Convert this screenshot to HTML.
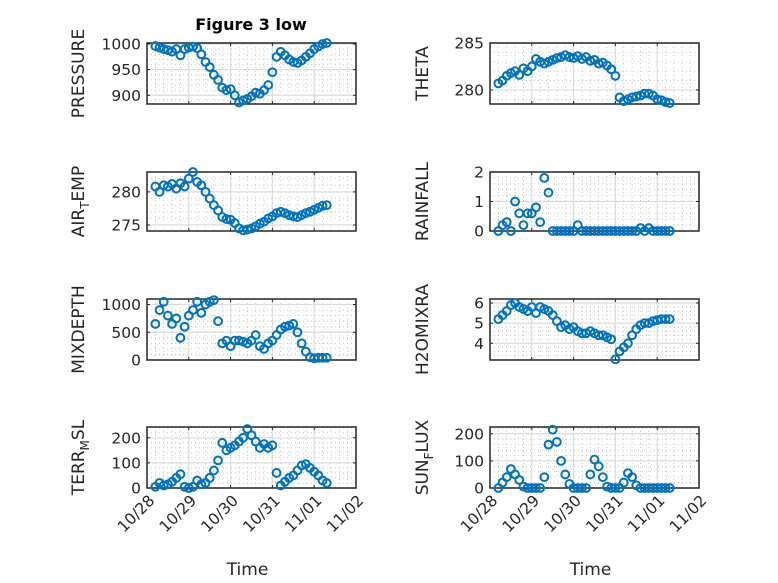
<!DOCTYPE html>
<html><head><meta charset="utf-8"><style>
body{margin:0;background:#fff;}
svg{display:block;font-family:"DejaVu Sans","Liberation Sans",sans-serif;}
</style></head><body>
<svg id="fig" width="778" height="583" viewBox="0 0 778 583" xmlns="http://www.w3.org/2000/svg">
<rect width="778" height="583" fill="#fff"/>
<text x="251" y="30" text-anchor="middle" font-size="16" font-weight="bold" fill="#000">Figure 3 low</text>
</svg>
<script>
const times = [0.2,0.3,0.4,0.5,0.6,0.7,0.8,0.9,1.0,1.1,1.2,1.3,1.4,1.5,1.6,1.7,1.8,1.9,2.0,2.1,2.2,2.3,2.4,2.5,2.6,2.7,2.8,2.9,3.0,3.1,3.2,3.3,3.4,3.5,3.6,3.7,3.8,3.9,4.0,4.1,4.2,4.3];
const xTickLabels = ["10/28","10/29","10/30","10/31","11/01","11/02"];
const pressure = [996,993,990,988,985,990,978,990,993,995,992,980,965,955,940,930,915,910,912,900,886,890,893,898,905,903,910,920,945,975,985,978,970,965,963,968,975,982,990,995,1000,1002];
const theta = [280.7,281,281.5,281.8,282,281.6,282.3,282,282.5,283.3,283,282.8,283,283.2,283.4,283.5,283.7,283.5,283.4,283.6,283.3,283.5,283.1,283.2,282.8,282.9,282.6,282.2,281.5,279.2,278.8,279,279.2,279.3,279.4,279.6,279.6,279.4,279,278.9,278.7,278.6];
const airTemp = [280.8,280,281,280.8,281.2,280.5,281.3,280.8,282,283,281.5,281,280,279,278,277.2,276.2,275.9,275.8,275.3,274.5,274.2,274.3,274.5,274.8,275.2,275.5,276,276.3,276.8,277,276.8,276.5,276.3,276.2,276.5,276.8,277,277.3,277.6,277.9,278];
const rainfall = [0,0.2,0.3,0,1.0,0.6,0.2,0.6,0.6,0.8,0.3,1.8,1.3,0,0,0,0,0,0,0.2,0,0,0,0,0,0,0,0,0,0,0,0,0,0,0.1,0,0.1,0,0,0,0,0];
const mixDepth = [650,900,1050,800,650,750,400,600,800,900,1050,850,1000,1050,1080,700,300,350,250,350,350,330,300,350,450,250,200,300,350,450,550,600,620,650,500,300,150,50,30,40,40,40];
const h2oMixRatio = [5.2,5.4,5.6,5.9,6.0,5.8,5.7,5.6,5.8,5.5,5.8,5.7,5.6,5.4,5.1,4.8,4.9,4.7,4.8,4.6,4.5,4.5,4.6,4.5,4.4,4.4,4.3,4.2,3.2,3.6,3.8,4.0,4.4,4.7,4.9,5.0,5.0,5.1,5.15,5.2,5.2,5.2];
const terrMsl = [5,20,10,15,25,40,55,5,0,5,30,15,20,40,70,110,180,150,160,170,185,200,235,210,185,160,175,160,170,60,10,25,40,50,70,90,95,80,65,50,30,20];
const sunFlux = [0,20,40,70,50,30,5,0,0,0,0,40,160,215,170,100,50,15,0,0,0,0,50,105,80,40,5,0,0,0,20,55,40,10,0,0,0,0,0,0,0,0];

const NS='http://www.w3.org/2000/svg';
const svg=document.getElementById('fig');
function mk(tag,attrs,parent){const e=document.createElementNS(NS,tag);for(const k in attrs)e.setAttribute(k,attrs[k]);(parent||svg).appendChild(e);return e;}

const panels=[
 {name:'pressure',data:pressure,x0:147,y0:43,y1:104,ymin:883,ymax:1002,ticks:[900,950,1000],minor:10,label:['PRESSURE'],col:0},
 {name:'theta',data:theta,x0:490,y0:43,y1:104,ymin:278.5,ymax:285,ticks:[280,285],minor:1,label:['THETA'],col:1},
 {name:'air-temp',data:airTemp,x0:147,y0:172,y1:231,ymin:274.1,ymax:283,ticks:[275,280],minor:1,label:['AIR','T','EMP'],col:0},
 {name:'rainfall',data:rainfall,x0:490,y0:172,y1:231,ymin:0,ymax:2,ticks:[0,1,2],minor:0.2,label:['RAINFALL'],col:1},
 {name:'mixdepth',data:mixDepth,x0:147,y0:299,y1:360,ymin:0,ymax:1100,ticks:[0,500,1000],minor:100,label:['MIXDEPTH'],col:0},
 {name:'h2o-mix-ratio',data:h2oMixRatio,x0:490,y0:299,y1:360,ymin:3.17,ymax:6.2,ticks:[4,5,6],minor:0.2,label:['H2OMIXRA'],col:1},
 {name:'terr-msl',data:terrMsl,x0:147,y0:427,y1:488,ymin:0,ymax:243,ticks:[0,100,200],minor:20,label:['TERR','M','SL'],col:0},
 {name:'sun-flux',data:sunFlux,x0:490,y0:427,y1:488,ymin:0,ymax:225,ticks:[0,100,200],minor:20,label:['SUN','F','LUX'],col:1}
];
const W=209, DAYS=5;
panels.forEach((p,pi)=>{
 const g=mk('g',{});
 
 
 const xs=t=>p.x0+t/DAYS*W;
 const ys=v=>p.y1-(v-p.ymin)/(p.ymax-p.ymin)*(p.y1-p.y0);
 for(let d=0;d<DAYS;d++){for(let k=1;k<5;k++){const x=xs(d+k/5);const l=mk('line',{x1:x,x2:x,y1:p.y0,y2:p.y1,stroke:'#bbb','stroke-width':0.8,'stroke-dasharray':'1,3'},g);}}
 for(let v=Math.ceil(p.ymin/p.minor)*p.minor;v<=p.ymax;v+=p.minor){const y=ys(v);const l=mk('line',{x1:p.x0,x2:p.x0+W,y1:y,y2:y,stroke:'#bbb','stroke-width':0.8,'stroke-dasharray':'1,3'},g);}
 for(let d=1;d<DAYS;d++){const x=xs(d);const l=mk('line',{x1:x,x2:x,y1:p.y0,y2:p.y1,stroke:'#dcdcdc','stroke-width':1.2},g);}
 p.ticks.forEach(v=>{const y=ys(v);const l=mk('line',{x1:p.x0,x2:p.x0+W,y1:y,y2:y,stroke:'#dcdcdc','stroke-width':1.2},g);
  const t=mk('text',{x:p.x0-6,y:y+5.5,'text-anchor':'end','font-size':15.5,fill:'#262626'},g);t.textContent=String(v);
  mk('line',{x1:p.x0,x2:p.x0+3,y1:y,y2:y,stroke:'#262626'},g);mk('line',{x1:p.x0+W,x2:p.x0+W-3,y1:y,y2:y,stroke:'#262626'},g);});
 for(let d=1;d<DAYS;d++){const x=xs(d);mk('line',{x1:x,x2:x,y1:p.y1,y2:p.y1-3,stroke:'#262626'},g);mk('line',{x1:x,x2:x,y1:p.y0,y2:p.y0+3,stroke:'#262626'},g);}
 const box=mk('rect',{x:p.x0,y:p.y0,width:W,height:p.y1-p.y0,fill:'none',stroke:'#262626','stroke-width':1.5},g);
 
 p.data.forEach((v,i)=>{const c=mk('circle',{cx:xs(times[i]),cy:ys(v),r:3.9,fill:'none',stroke:'#0072BD','stroke-width':2},g);
  });
 const lx=p.col===0?84:428, ly=(p.y0+p.y1)/2;
 const yl=mk('text',{x:lx,y:ly,'text-anchor':'middle','font-size':17,fill:'#262626',transform:`rotate(-90 ${lx} ${ly})`},g);
 
 if(p.label.length===1){yl.textContent=p.label[0];}
 else{const a=mk('tspan',{},yl);a.textContent=p.label[0];const b=mk('tspan',{dy:5,'font-size':12},yl);b.textContent=p.label[1];const c=mk('tspan',{dy:-5},yl);c.textContent=p.label[2];}
 if(pi>=6){xTickLabels.forEach((s,d)=>{const x=xs(d),y=p.y1+10;const t=mk('text',{x:x+5,y:y+5,'text-anchor':'end','font-size':15.5,fill:'#262626',transform:`rotate(-45 ${x+5} ${y})`},g);t.textContent=s;});
  const xl=mk('text',{x:p.x0+W/2-4,y:575,'text-anchor':'middle','font-size':17,fill:'#262626'},g);xl.textContent='Time';}
});
</script>
</body></html>
